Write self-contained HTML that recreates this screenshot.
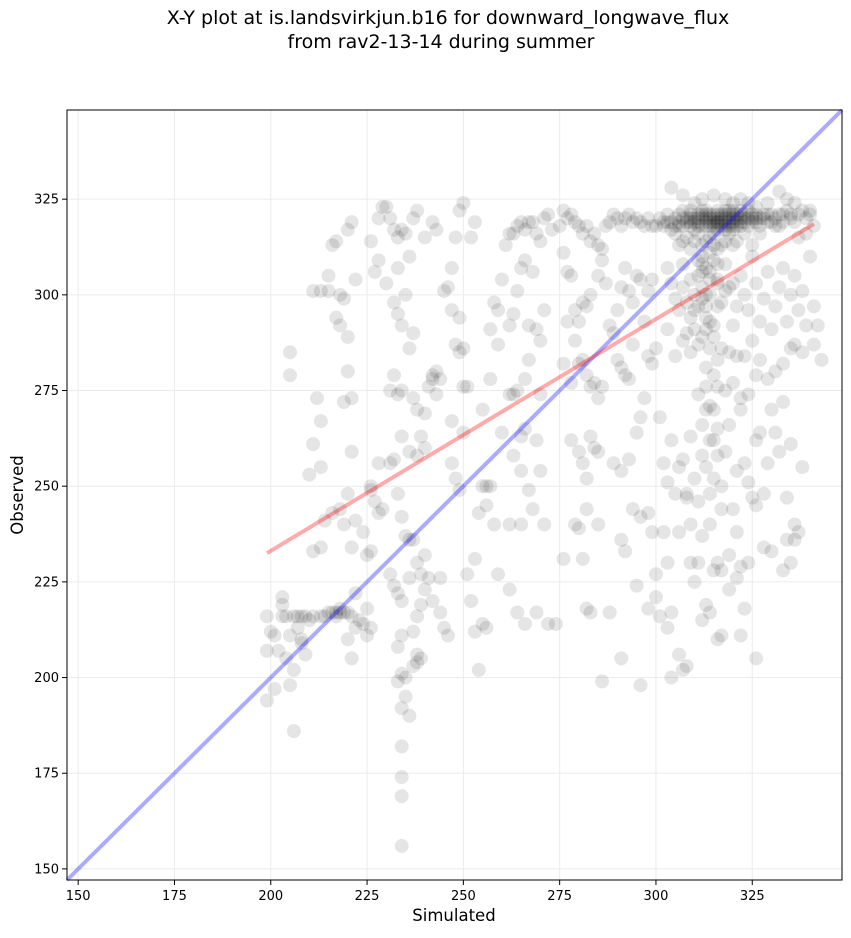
<!DOCTYPE html>
<html><head><meta charset="utf-8"><style>
body{margin:0;background:#fff;font-family:"DejaVu Sans",sans-serif}
svg text{font-family:"DejaVu Sans","Liberation Sans",sans-serif}
</style></head><body>
<svg id="chart" width="851" height="934" viewBox="0 0 851 934">
<text x="448" y="24" font-size="19" text-anchor="middle">X-Y plot at is.landsvirkjun.b16 for downward_longwave_flux</text>
<text x="441" y="48" font-size="19" text-anchor="middle">from rav2-13-14 during summer</text>
<g id="grid"></g>
<g id="pts"></g>
<g id="lines"></g>
<rect x="67" y="110" width="775" height="770" fill="none" stroke="#000" stroke-width="1"/>
<g id="ticks"></g>
<text x="454" y="921" font-size="16.5" text-anchor="middle">Simulated</text>
<text x="23" y="495" font-size="16.5" text-anchor="middle" transform="rotate(-90 23 495)">Observed</text>
</svg>
<script>
const xTicks=[150,175,200,225,250,275,300,325];
const yTicks=[150,175,200,225,250,275,300,325];
const fitX=[199,341];
const fitY=[232.5,318.5];
const oneToOne=[147.1,348.3];
const pairs=[
[199,216],[199,207],[200,212],[201,211],[202,207],[203,216],[203,221],[204,216],[205,198],[205,211],[206,216],[206,186],[207,216],[208,216],[208,209],[209,216],[209,206],[207,213],[210,215],[211,233],[201,197],[203,219],[204,205],[205,285],[205,279],[199,194],[206,202],[208,210],[215,217],[216,217],[217,217],[218,217],[219,217],[220,217],[217,216],[218,218],[213,216],[214,216],[211,216],[221,216],[222,213],[220,210],[221,205],[219,240],[220,248],[218,244],[221,234],[222,222],[223,215],[224,214],[225,218],[225,211],
[215,301],[216,313],[217,314],[218,300],[219,299],[220,317],[221,319],[222,304],[217,294],[218,292],[220,289],[220,280],[221,273],[219,272],[215,305],[213,301],[211,301],[212,273],[213,267],[213,255],[211,261],[210,253],[213,234],[214,241],[216,243],[222,241],[224,238],[221,259],[225,232],[226,249],[226,250],[226,233],[228,243],[229,244],[226,213],[227,246],[228,256],
[229,323],[230,323],[231,320],[232,317],[234,317],[235,316],[233,315],[236,310],[237,320],[238,322],[240,315],[242,319],[243,317],[228,320],[226,314],[227,306],[228,309],[230,303],[232,298],[233,295],[234,292],[235,300],[237,290],[233,307],[231,275],[232,279],[233,274],[234,275],[236,286],[237,273],[238,270],[239,263],[240,269],[241,276],[242,278],[243,274],[231,256],[232,257],[234,263],[233,248],[234,242],[235,237],[236,236],[237,236],[238,230],[239,227],[240,223],[231,227],[232,224],[233,222],[234,220],[234,211],[233,208],[234,201],[235,200],[235,195],[236,190],[234,192],[233,199],[234,182],[234,174],[234,169],[234,156],[237,203],[238,204],[238,206],[239,205],[237,212],[238,216],[239,219],[236,226],[240,232],[241,226],[242,220],[244,217],[245,213],[246,211],[244,226],[236,259],[238,258],[240,260],[242,279],[243,280],[244,278],[245,301],[246,302],[247,307],[248,315],[249,322],[250,324],[252,315],[253,319],[247,296],[249,294],[248,287],[249,285],[250,286],[247,267],[251,276],[250,276],[247,256],[249,249],[250,264],[248,252],
[251,227],[252,220],[253,212],[254,202],[255,214],[256,213],[254,243],[255,250],[256,245],[257,250],[258,240],[255,270],[257,278],[258,298],[259,296],[260,304],[261,313],[262,316],[263,316],[264,318],[265,319],[266,317],[267,319],[268,319],[269,316],[270,314],[271,320],[272,321],[273,317],[262,292],[263,295],[264,301],[265,307],[266,309],[267,292],[268,306],[269,291],[270,288],[271,296],[262,274],[263,274],[264,275],[267,283],[266,278],[270,274],[263,258],[265,263],[266,265],[269,262],[265,254],[267,249],[270,254],[268,244],[271,240],[260,264],[262,240],[265,240],[266,214],[264,217],[262,223],[259,227],[269,217],[272,214],[274,214],[253,231],[256,250],[259,287],[257,291],
[275,318],[276,322],[277,320],[278,321],[279,319],[280,318],[281,316],[282,318],[283,314],[284,316],[285,313],[286,312],[287,318],[288,319],[289,321],[290,320],[291,318],[292,320],[293,321],[294,319],[295,320],[296,319],[297,318],[298,320],[299,318],[276,311],[277,306],[278,305],[279,296],[280,293],[281,298],[282,297],[283,300],[285,305],[286,309],[287,303],[288,292],[289,290],[290,296],[291,302],[292,307],[293,301],[294,298],[295,305],[296,304],[297,293],[298,301],[299,304],[276,282],[277,293],[278,277],[279,288],[280,282],[281,283],[282,279],[283,276],[284,277],[285,273],[286,276],[290,283],[291,281],[292,279],[293,278],[294,287],[295,264],[296,268],[297,273],[298,284],[299,282],[300,286],[278,262],[280,259],[281,256],[282,252],[283,263],[284,260],[285,259],[291,254],[293,257],[296,242],[298,243],[299,238],[300,227],[276,231],[279,240],[280,239],[282,244],[285,240],[288,217],[289,256],[291,236],[292,233],[294,244],[295,224],[296,198],[298,218],[300,221],[281,231],[282,218],[283,217],[291,205],[286,199],[302,238],[303,230],
[300,318],[301,320],[302,319],[303,321],[304,317],[305,320],[306,318],[307,322],[308,319],[309,321],[310,317],[311,320],[312,318],[313,322],[314,320],[315,319],[316,321],[317,318],[318,320],[319,322],[320,319],[321,321],[322,318],[323,320],[324,322],[325,319],[326,321],[327,318],[328,320],[329,319],[330,321],[331,320],[332,318],[333,321],[334,322],[335,320],[336,319],[337,321],[338,322],[339,320],[340,321],
[306,319],[308,320],[309,318],[310,320],[311,319],[312,321],[313,319],[314,318],[315,321],[316,320],[317,320],[318,319],[319,320],[320,321],[321,320],[322,320],[323,319],[324,320],[325,321],[314,321],[316,319],[318,321],[320,320],[322,321],[317,321],[319,319],[321,318],[315,320],[313,318],[311,321],[309,319],[307,318],[305,318],[303,319],[326,319],[328,321],[330,319],[332,321],[318,318],[316,317],[320,318],
[310,319],[312,320],[314,319],[316,318],[318,322],[320,322],[322,319],[324,318],[326,320],[313,321],[315,318],[317,319],[319,321],[321,319],[323,321],[311,318],[309,320],[307,320],[306,321],[304,319],[302,318],[325,320],[327,320],[329,321],[331,318],[333,319],[335,321],[312,322],[316,322],[319,318],
[305,316],[307,314],[309,312],[311,316],[313,314],[315,316],[317,313],[319,316],[321,314],[323,316],[325,313],[327,316],[310,324],[312,325],[315,326],[318,325],[320,324],[322,325],[304,328],[307,326],[309,322],[313,320],[316,319],[318,317],[320,317],[322,322],[324,324],[326,323],[329,324],[332,327],[334,325],[336,324],[340,322],[341,318],[339,316],[337,315],[312,310],[313,307],[314,304],[312,302],[313,297],[314,311],[315,313],[316,308],[311,309],
[310,314],[312,313],[314,315],[316,312],[318,314],[320,313],[308,315],[306,313],[312,308],[314,306],[316,303],[311,305],[310,300],[312,299],[314,300],[316,297],[313,294],[315,292],[312,289],[314,286],[316,283],[313,281],[315,279],[313,276],[311,274],[315,270],[312,266],[314,262],[316,258],[313,255],[315,252],[314,248],[317,244],[318,301],[320,303],[309,304],[307,308],[310,296],[308,298],
[303,307],[304,303],[305,299],[306,296],[307,302],[308,290],[309,294],[310,291],[311,297],[312,306],[313,300],[314,293],[315,309],[316,304],[317,298],[318,308],[319,302],[320,292],[321,297],[322,305],[323,300],[324,296],[325,310],[326,303],[327,293],[328,299],[329,306],[330,291],[331,297],[332,302],[333,307],[334,293],[335,300],[336,305],[337,296],[338,301],[339,292],[340,310],[341,297],[342,292],[343,283],[341,287],[338,285],[336,287],[335,286],[333,282],[331,280],[329,278],[327,283],[325,288],[323,284],[321,284],[319,285],[317,286],[315,289],[313,291],[311,287],[309,285],[307,288],[305,284],[303,291],
[301,268],[302,256],[303,251],[304,262],[305,248],[306,255],[307,257],[308,248],[309,263],[310,252],[311,246],[312,258],[313,270],[314,271],[315,262],[316,265],[317,250],[318,259],[319,266],[320,244],[321,254],[322,270],[323,256],[324,251],[325,247],[326,262],[327,264],[328,248],[329,256],[330,270],[331,264],[332,259],[333,272],[334,247],[335,261],[336,240],[337,238],[338,255],[316,276],[318,275],[320,277],[322,273],[324,274],[326,279],[306,238],[308,247],[309,240],[312,237],[314,240],[316,230],[317,228],[319,232],[321,238],[322,229],[324,230],[326,245],[328,234],[330,233],[333,228],[335,230],[334,236],[336,236],
[301,216],[303,213],[304,217],[306,206],[307,202],[308,203],[310,225],[311,230],[312,215],[313,219],[315,228],[316,210],[317,211],[319,223],[321,226],[322,211],[323,218],[326,205],[304,200],[309,230],[314,217]
];
const simulated=pairs.map(p=>p[0]);
const observed=pairs.map(p=>p[1]);

const NS='http://www.w3.org/2000/svg';
const X0=67,X1=842,Y0=880,Y1=110,LO=147.1,HI=348.3;
const sx=v=>X0+(v-LO)/(HI-LO)*(X1-X0);
const sy=v=>Y0-(v-LO)/(HI-LO)*(Y0-Y1);
function mk(tag,attrs,parent){const e=document.createElementNS(NS,tag);for(const k in attrs)e.setAttribute(k,attrs[k]);parent.appendChild(e);return e;}
const grid=document.getElementById('grid'),ticks=document.getElementById('ticks'),pts=document.getElementById('pts'),lines=document.getElementById('lines');
xTicks.forEach(t=>{
  const g=mk('line',{x1:sx(t),x2:sx(t),y1:Y1,y2:Y0,stroke:'#ebebeb','stroke-width':1},grid);
  
  
  const tk=mk('line',{x1:sx(t),x2:sx(t),y1:Y0,y2:Y0+5,stroke:'#000'},ticks);
  
  
  const tx=mk('text',{x:sx(t),y:Y0+20,'font-size':13,'text-anchor':'middle'},ticks);
  tx.textContent=t;
  
  
});
yTicks.forEach(t=>{
  const g=mk('line',{x1:X0,x2:X1,y1:sy(t),y2:sy(t),stroke:'#ebebeb','stroke-width':1},grid);
  
  
  const tk=mk('line',{x1:X0-5,x2:X0,y1:sy(t),y2:sy(t),stroke:'#000'},ticks);
  
  
  const tx=mk('text',{x:X0-8,y:sy(t)+4.5,'font-size':13,'text-anchor':'end'},ticks);
  tx.textContent=t;
  
  
});
simulated.forEach((s,i)=>{
  const c=mk('circle',{cx:sx(s),cy:sy(observed[i]),r:7,fill:'#000','fill-opacity':0.1},pts);
  
  
});
const b=mk('line',{x1:sx(oneToOne[0]),y1:sy(oneToOne[0]),x2:sx(oneToOne[1]),y2:sy(oneToOne[1]),stroke:'#0000ff','stroke-opacity':0.33,'stroke-width':4},lines);


const r=mk('line',{x1:sx(fitX[0]),y1:sy(fitY[0]),x2:sx(fitX[1]),y2:sy(fitY[1]),stroke:'#ff0000','stroke-opacity':0.33,'stroke-width':4},lines);


</script>
</body></html>
